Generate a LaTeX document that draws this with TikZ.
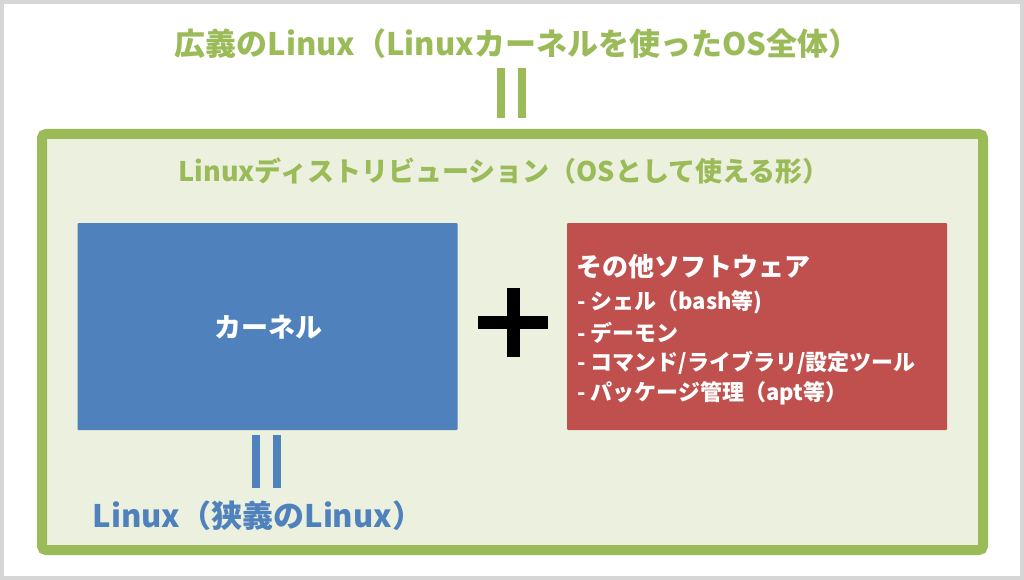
\documentclass[tikz,border=0pt]{standalone}
\usepackage{fontspec}
\setmainfont{Noto Sans CJK JP}
\definecolor{lgreen}{HTML}{9BBB59}
\definecolor{lgreenfill}{HTML}{EBF1DE}
\definecolor{kblue}{HTML}{4F81BD}
\definecolor{kred}{HTML}{C0504D}
\definecolor{frame}{HTML}{D6D6D6}
\tikzset{
  bigtext/.style={font=\bfseries\fontsize{27}{30}\selectfont, inner sep=0pt},
  boxtext/.style={font=\bfseries\fontsize{26}{30}\selectfont, text=white, inner sep=0pt},
  listtext/.style={font=\bfseries\fontsize{22}{30}\selectfont, text=white, inner sep=0pt, anchor=west},
  colorbox/.style={minimum width=380pt, minimum height=207pt, inner sep=0pt, rounded corners=1pt},
}
\begin{document}
\begin{tikzpicture}[x=1pt,y=-1pt]
\useasboundingbox (0,0) rectangle (1024,580);
\fill[white] (0,0) rectangle (1024,580);
\draw[frame, line width=4pt] (2,2) rectangle (1022,578);
% title
\node[bigtext, text=lgreen, font=\bfseries\fontsize{31}{34}\selectfont] (title) at (517,44) {広義のLinux（Linuxカーネルを使ったOS全体）};
% green equals
\fill[lgreen] (497,68) rectangle (505,118);
\fill[lgreen] (518,68) rectangle (526,118);
% distribution box
\node[draw=lgreen, line width=10pt, fill=lgreenfill, rounded corners=4pt,
      minimum width=941pt, minimum height=416pt] (dist) at (512.5,342) {};
\node[bigtext, text=lgreen] (distlabel) at (504,171) {Linuxディストリビューション（OSとして使える形）};
% kernel
\node[colorbox, fill=kblue] (kernel) at (267.5,326.5) {};
\node[boxtext, font=\bfseries\fontsize{27}{30}\selectfont] (kernellabel) at (268,327) {カーネル};
% plus
\fill[black] (507,288) rectangle (520,357);
\fill[black] (478,316) rectangle (548,329);
% other software
\node[colorbox, fill=kred] (other) at (757,326.5) {};
\node[boxtext, anchor=west] (othertitle) at (576,267) {その他ソフトウェア};
\node[listtext] (l1) at (577,302) {- シェル（bash等)};
\node[listtext] (l2) at (577,333) {- デーモン};
\node[listtext] (l3) at (577,363) {- コマンド/ライブラリ/設定ツール};
\node[listtext] (l4) at (577,393) {- パッケージ管理（apt等）};
% blue equals
\fill[kblue] (252,435) rectangle (260,488);
\fill[kblue] (273,435) rectangle (281,488);
\node[bigtext, text=kblue, font=\bfseries\fontsize{31}{34}\selectfont] (narrow) at (258,516) {Linux（狭義のLinux）};
\end{tikzpicture}
\end{document}
